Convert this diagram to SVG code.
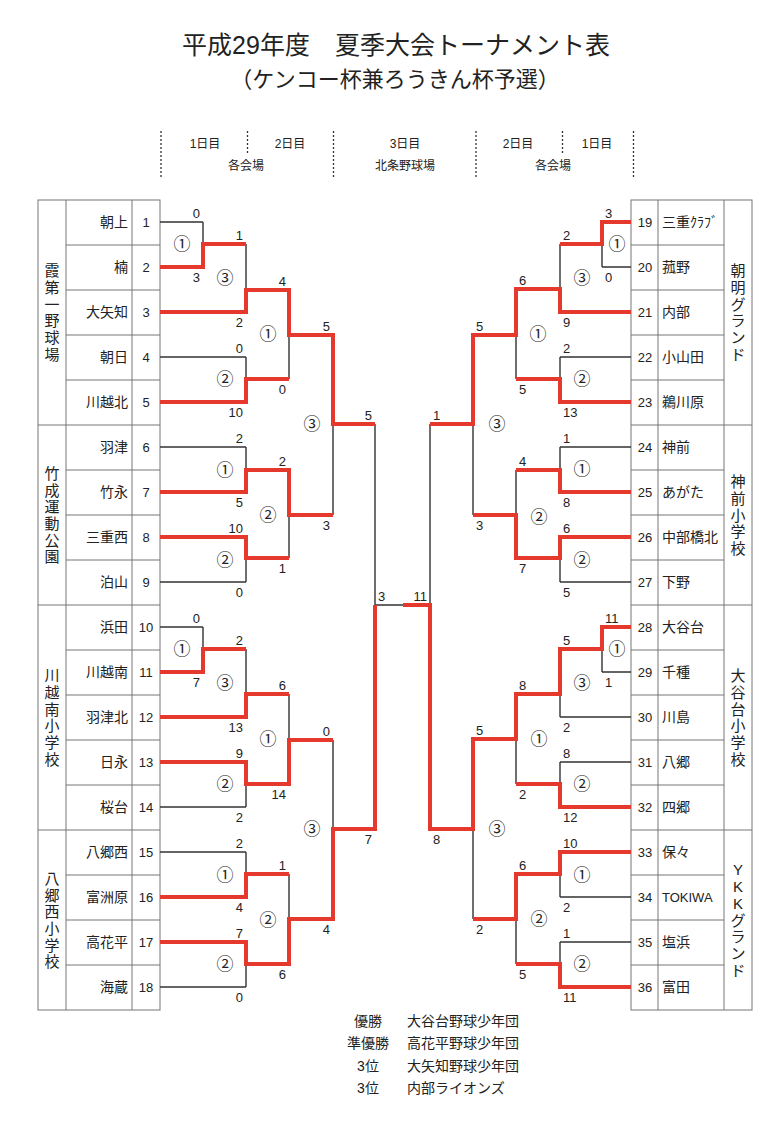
<svg xmlns="http://www.w3.org/2000/svg" width="781" height="1138" viewBox="0 0 781 1138">
<style>
text{font-family:"Liberation Sans","Noto Sans CJK JP",sans-serif;fill:#222}
.ttl{font-size:25px;text-anchor:middle}
.sub{font-size:22px;text-anchor:middle}
.hd{font-size:12px;text-anchor:middle}
.nmL{font-size:14px;text-anchor:end}
.nmR{font-size:14px;text-anchor:start}
.num{font-size:13px;text-anchor:middle}
.ven{font-size:15px;text-anchor:middle}
.sL{font-size:13px;text-anchor:end}
.sR{font-size:13px;text-anchor:start}
.ci{font-family:"Noto Sans CJK JP",sans-serif;font-size:17px;text-anchor:middle;fill:#222}
.ft{font-size:14px}
.ftc{font-size:14px;text-anchor:middle}
.grid{stroke:#777;stroke-width:1;fill:none}
.dot{stroke:#333;stroke-width:1.3;stroke-dasharray:2 2;fill:none}
.blk{stroke:#333;stroke-width:1.4;fill:none}
.red{stroke:#e5392d;stroke-width:4;fill:none;stroke-linejoin:miter}
</style>
<rect width="781" height="1138" fill="#fff"/>
<g id="title">
<text class="ttl" x="396" y="54">平成29年度　夏季大会トーナメント表</text>
<text class="sub" x="395" y="87">（ケンコー杯兼ろうきん杯予選）</text>
</g>
<g id="header">
<path class="dot" d="M161 131V177M333.5 131V177M476 131V177M633.5 131V177M247.5 131V155M562.5 131V155"/>
<text class="hd" x="205" y="148">1日目</text>
<text class="hd" x="290" y="148">2日目</text>
<text class="hd" x="405" y="148">3日目</text>
<text class="hd" x="518" y="148">2日目</text>
<text class="hd" x="597" y="148">1日目</text>
<text class="hd" x="246" y="170">各会場</text>
<text class="hd" x="405" y="170">北条野球場</text>
<text class="hd" x="553" y="170">各会場</text>
</g>
<g id="table-left">
<rect class="grid" x="38" y="200" width="122" height="810"/>
<path class="grid" d="M66 200V1010M132 200V1010M66 245H160M66 290H160M66 335H160M66 380H160M38 425H160M66 470H160M66 515H160M66 560H160M38 605H160M66 650H160M66 695H160M66 740H160M66 785H160M38 830H160M66 875H160M66 920H160M66 965H160"/>
</g>
<g id="table-right">
<rect class="grid" x="631" y="200" width="121" height="810"/>
<path class="grid" d="M658 200V1010M724 200V1010M631 245H724M631 290H724M631 335H724M631 380H724M631 425H752M631 470H724M631 515H724M631 560H724M631 605H752M631 650H724M631 695H724M631 740H724M631 785H724M631 830H752M631 875H724M631 920H724M631 965H724"/>
</g>
<g id="venue-kasumi"><text class="ven" y="276.3"><tspan x="52">霞</tspan><tspan x="52" dy="16.7">第</tspan><tspan x="52" dy="16.7">一</tspan><tspan x="52" dy="16.7">野</tspan><tspan x="52" dy="16.7">球</tspan><tspan x="52" dy="16.7">場</tspan></text></g>
<g id="venue-takenari"><text class="ven" y="478.8"><tspan x="52">竹</tspan><tspan x="52" dy="16.7">成</tspan><tspan x="52" dy="16.7">運</tspan><tspan x="52" dy="16.7">動</tspan><tspan x="52" dy="16.7">公</tspan><tspan x="52" dy="16.7">園</tspan></text></g>
<g id="venue-kawagoeminami"><text class="ven" y="681.3"><tspan x="52">川</tspan><tspan x="52" dy="16.7">越</tspan><tspan x="52" dy="16.7">南</tspan><tspan x="52" dy="16.7">小</tspan><tspan x="52" dy="16.7">学</tspan><tspan x="52" dy="16.7">校</tspan></text></g>
<g id="venue-yagonishi"><text class="ven" y="883.8"><tspan x="52">八</tspan><tspan x="52" dy="16.7">郷</tspan><tspan x="52" dy="16.7">西</tspan><tspan x="52" dy="16.7">小</tspan><tspan x="52" dy="16.7">学</tspan><tspan x="52" dy="16.7">校</tspan></text></g>
<g id="venue-asake"><text class="ven" y="276.3"><tspan x="738">朝</tspan><tspan x="738" dy="16.7">明</tspan><tspan x="738" dy="16.7">グ</tspan><tspan x="738" dy="16.7">ラ</tspan><tspan x="738" dy="16.7">ン</tspan><tspan x="738" dy="16.7">ド</tspan></text></g>
<g id="venue-kanzaki"><text class="ven" y="487.1"><tspan x="738">神</tspan><tspan x="738" dy="16.7">前</tspan><tspan x="738" dy="16.7">小</tspan><tspan x="738" dy="16.7">学</tspan><tspan x="738" dy="16.7">校</tspan></text></g>
<g id="venue-ootanidai"><text class="ven" y="681.3"><tspan x="738">大</tspan><tspan x="738" dy="16.7">谷</tspan><tspan x="738" dy="16.7">台</tspan><tspan x="738" dy="16.7">小</tspan><tspan x="738" dy="16.7">学</tspan><tspan x="738" dy="16.7">校</tspan></text></g>
<g id="venue-ykk"><text class="ven" y="875.4"><tspan x="738">Y</tspan><tspan x="738" dy="16.7">K</tspan><tspan x="738" dy="16.7">K</tspan><tspan x="738" dy="16.7">グ</tspan><tspan x="738" dy="16.7">ラ</tspan><tspan x="738" dy="16.7">ン</tspan><tspan x="738" dy="16.7">ド</tspan></text></g>
<g id="team-1"><text class="nmL" x="128" y="227">朝上</text><text class="num" x="146" y="227">1</text></g>
<g id="team-2"><text class="nmL" x="128" y="272">楠</text><text class="num" x="146" y="272">2</text></g>
<g id="team-3"><text class="nmL" x="128" y="317">大矢知</text><text class="num" x="146" y="317">3</text></g>
<g id="team-4"><text class="nmL" x="128" y="362">朝日</text><text class="num" x="146" y="362">4</text></g>
<g id="team-5"><text class="nmL" x="128" y="407">川越北</text><text class="num" x="146" y="407">5</text></g>
<g id="team-6"><text class="nmL" x="128" y="452">羽津</text><text class="num" x="146" y="452">6</text></g>
<g id="team-7"><text class="nmL" x="128" y="497">竹永</text><text class="num" x="146" y="497">7</text></g>
<g id="team-8"><text class="nmL" x="128" y="542">三重西</text><text class="num" x="146" y="542">8</text></g>
<g id="team-9"><text class="nmL" x="128" y="587">泊山</text><text class="num" x="146" y="587">9</text></g>
<g id="team-10"><text class="nmL" x="128" y="632">浜田</text><text class="num" x="146" y="632">10</text></g>
<g id="team-11"><text class="nmL" x="128" y="677">川越南</text><text class="num" x="146" y="677">11</text></g>
<g id="team-12"><text class="nmL" x="128" y="722">羽津北</text><text class="num" x="146" y="722">12</text></g>
<g id="team-13"><text class="nmL" x="128" y="767">日永</text><text class="num" x="146" y="767">13</text></g>
<g id="team-14"><text class="nmL" x="128" y="812">桜台</text><text class="num" x="146" y="812">14</text></g>
<g id="team-15"><text class="nmL" x="128" y="857">八郷西</text><text class="num" x="146" y="857">15</text></g>
<g id="team-16"><text class="nmL" x="128" y="902">富洲原</text><text class="num" x="146" y="902">16</text></g>
<g id="team-17"><text class="nmL" x="128" y="947">高花平</text><text class="num" x="146" y="947">17</text></g>
<g id="team-18"><text class="nmL" x="128" y="992">海蔵</text><text class="num" x="146" y="992">18</text></g>
<g id="team-19"><text class="num" x="645" y="227">19</text><text class="nmR" x="662" y="227">三重ｸﾗﾌﾞ</text></g>
<g id="team-20"><text class="num" x="645" y="272">20</text><text class="nmR" x="662" y="272">菰野</text></g>
<g id="team-21"><text class="num" x="645" y="317">21</text><text class="nmR" x="662" y="317">内部</text></g>
<g id="team-22"><text class="num" x="645" y="362">22</text><text class="nmR" x="662" y="362">小山田</text></g>
<g id="team-23"><text class="num" x="645" y="407">23</text><text class="nmR" x="662" y="407">鵜川原</text></g>
<g id="team-24"><text class="num" x="645" y="452">24</text><text class="nmR" x="662" y="452">神前</text></g>
<g id="team-25"><text class="num" x="645" y="497">25</text><text class="nmR" x="662" y="497">あがた</text></g>
<g id="team-26"><text class="num" x="645" y="542">26</text><text class="nmR" x="662" y="542">中部橋北</text></g>
<g id="team-27"><text class="num" x="645" y="587">27</text><text class="nmR" x="662" y="587">下野</text></g>
<g id="team-28"><text class="num" x="645" y="632">28</text><text class="nmR" x="662" y="632">大谷台</text></g>
<g id="team-29"><text class="num" x="645" y="677">29</text><text class="nmR" x="662" y="677">千種</text></g>
<g id="team-30"><text class="num" x="645" y="722">30</text><text class="nmR" x="662" y="722">川島</text></g>
<g id="team-31"><text class="num" x="645" y="767">31</text><text class="nmR" x="662" y="767">八郷</text></g>
<g id="team-32"><text class="num" x="645" y="812">32</text><text class="nmR" x="662" y="812">四郷</text></g>
<g id="team-33"><text class="num" x="645" y="857">33</text><text class="nmR" x="662" y="857">保々</text></g>
<g id="team-34"><text class="num" x="645" y="902">34</text><text class="nmR" x="662" y="902" style="font-size:13px">TOKIWA</text></g>
<g id="team-35"><text class="num" x="645" y="947">35</text><text class="nmR" x="662" y="947">塩浜</text></g>
<g id="team-36"><text class="num" x="645" y="992">36</text><text class="nmR" x="662" y="992">富田</text></g>
<g id="connectors">
<path class="blk" d="M160 222H203M160 267H203M160 312H246M160 357H246M160 402H246M160 447H246M160 492H246M160 537H246M160 582H246M160 627H203M160 672H203M160 717H246M160 762H246M160 807H246M160 852H246M160 897H246M160 942H246M160 987H246M203 222V267M203 627V672M246 244V312M246 357V402M246 447V492M246 537V582M246 649V717M246 762V807M246 852V897M246 942V987M289 290V379M289 470V558M289 694V784M289 874V964M333 335V515M333 740V919M375 424V829M203 244H246M203 649H246M246 290H289M246 379H289M246 470H289M246 558H289M246 694H289M246 784H289M246 874H289M246 964H289M289 335H333M289 515H333M289 740H333M289 919H333M333 424H375M333 829H375M375 605H430"/>
<path class="blk" d="M631 222H602M631 267H602M631 312H560M631 357H560M631 402H560M631 447H560M631 492H560M631 537H560M631 582H560M631 627H602M631 672H602M631 717H560M631 762H560M631 807H560M631 852H560M631 897H560M631 942H560M631 987H560M602 222V267M602 627V672M560 244V312M560 357V402M560 447V492M560 537V582M560 649V717M560 762V807M560 852V897M560 942V987M516 289V379M516 470V558M516 694V784M516 874V964M473 335V515M473 739V919M430 424V829M602 244H560M602 649H560M560 289H516M560 379H516M560 470H516M560 558H516M560 694H516M560 784H516M560 874H516M560 964H516M516 335H473M516 515H473M516 739H473M516 919H473M473 424H430M473 829H430"/>
<path class="red" d="M160 267H203V244H246"/>
<path class="red" d="M160 312H246V290H289V335H333V424H375"/>
<path class="red" d="M160 402H246V379H289"/>
<path class="red" d="M160 492H246V470H289V515H333"/>
<path class="red" d="M160 537H246V558H289"/>
<path class="red" d="M160 672H203V649H246"/>
<path class="red" d="M160 717H246V694H289"/>
<path class="red" d="M160 762H246V784H289V740H333"/>
<path class="red" d="M160 897H246V874H289"/>
<path class="red" d="M160 942H246V964H289V919H333V829H375V605"/>
<path class="red" d="M631 222H602V244H560"/>
<path class="red" d="M631 312H560V289H516V335H473V424H430"/>
<path class="red" d="M631 402H560V379H516"/>
<path class="red" d="M631 492H560V470H516"/>
<path class="red" d="M631 537H560V558H516V515H473"/>
<path class="red" d="M631 627H602V649H560V694H516V739H473V829H430V605H403"/>
<path class="red" d="M631 807H560V784H516"/>
<path class="red" d="M631 852H560V874H516V919H473"/>
<path class="red" d="M631 987H560V964H516"/>
</g>
<g id="scores-left">
<text class="sL" x="200" y="218">0</text><text class="sL" x="200" y="282">3</text>
<text class="sL" x="243" y="240">1</text><text class="sL" x="243" y="327">2</text>
<text class="sL" x="243" y="353">0</text><text class="sL" x="243" y="417">10</text>
<text class="sL" x="286" y="286">4</text><text class="sL" x="286" y="394">0</text>
<text class="sL" x="243" y="443">2</text><text class="sL" x="243" y="507">5</text>
<text class="sL" x="243" y="533">10</text><text class="sL" x="243" y="597">0</text>
<text class="sL" x="286" y="466">2</text><text class="sL" x="286" y="573">1</text>
<text class="sL" x="330" y="331">5</text><text class="sL" x="330" y="530">3</text>
<text class="sL" x="200" y="623">0</text><text class="sL" x="200" y="687">7</text>
<text class="sL" x="243" y="645">2</text><text class="sL" x="243" y="732">13</text>
<text class="sL" x="243" y="758">9</text><text class="sL" x="243" y="822">2</text>
<text class="sL" x="286" y="690">6</text><text class="sL" x="286" y="799">14</text>
<text class="sL" x="243" y="848">2</text><text class="sL" x="243" y="912">4</text>
<text class="sL" x="243" y="938">7</text><text class="sL" x="243" y="1002">0</text>
<text class="sL" x="286" y="870">1</text><text class="sL" x="286" y="979">6</text>
<text class="sL" x="330" y="736">0</text><text class="sL" x="330" y="934">4</text>
<text class="sL" x="372" y="420">5</text><text class="sL" x="372" y="844">7</text>
</g>
<g id="scores-final">
<text class="sR" x="378" y="601">3</text><text class="sL" x="427" y="601">11</text>
</g>
<g id="scores-right">
<text class="sR" x="605" y="218">3</text><text class="sR" x="605" y="282">0</text>
<text class="sR" x="563" y="240">2</text><text class="sR" x="563" y="327">9</text>
<text class="sR" x="563" y="353">2</text><text class="sR" x="563" y="417">13</text>
<text class="sR" x="519" y="285">6</text><text class="sR" x="519" y="394">5</text>
<text class="sR" x="563" y="443">1</text><text class="sR" x="563" y="507">8</text>
<text class="sR" x="563" y="533">6</text><text class="sR" x="563" y="597">5</text>
<text class="sR" x="519" y="466">4</text><text class="sR" x="519" y="573">7</text>
<text class="sR" x="476" y="331">5</text><text class="sR" x="476" y="530">3</text>
<text class="sR" x="605" y="623">11</text><text class="sR" x="605" y="687">1</text>
<text class="sR" x="563" y="645">5</text><text class="sR" x="563" y="732">2</text>
<text class="sR" x="563" y="758">8</text><text class="sR" x="563" y="822">12</text>
<text class="sR" x="519" y="690">8</text><text class="sR" x="519" y="799">2</text>
<text class="sR" x="563" y="848">10</text><text class="sR" x="563" y="912">2</text>
<text class="sR" x="563" y="938">1</text><text class="sR" x="563" y="1002">11</text>
<text class="sR" x="519" y="870">6</text><text class="sR" x="519" y="979">5</text>
<text class="sR" x="476" y="735">5</text><text class="sR" x="476" y="934">2</text>
<text class="sR" x="433" y="420">1</text><text class="sR" x="433" y="844">8</text>
</g>
<g id="rounds-left">
<text class="ci" x="182" y="250">①</text><text class="ci" x="225" y="284">③</text><text class="ci" x="225" y="385">②</text><text class="ci" x="268" y="340">①</text>
<text class="ci" x="225" y="476">①</text><text class="ci" x="225" y="566">②</text><text class="ci" x="268" y="521">②</text><text class="ci" x="312" y="430">③</text>
<text class="ci" x="182" y="655">①</text><text class="ci" x="225" y="689">③</text><text class="ci" x="225" y="790">②</text><text class="ci" x="268" y="745">①</text>
<text class="ci" x="225" y="881">①</text><text class="ci" x="225" y="970">②</text><text class="ci" x="268" y="926">②</text><text class="ci" x="312" y="835">③</text>
</g>
<g id="rounds-right">
<text class="ci" x="617" y="250">①</text><text class="ci" x="582" y="284">③</text><text class="ci" x="582" y="385">②</text><text class="ci" x="538" y="340">①</text>
<text class="ci" x="582" y="475">①</text><text class="ci" x="582" y="566">②</text><text class="ci" x="539" y="523">②</text><text class="ci" x="497" y="430">③</text>
<text class="ci" x="617" y="655">①</text><text class="ci" x="582" y="689">③</text><text class="ci" x="582" y="790">②</text><text class="ci" x="539" y="745">①</text>
<text class="ci" x="582" y="881">①</text><text class="ci" x="582" y="970">②</text><text class="ci" x="539" y="925">②</text><text class="ci" x="497" y="835">③</text>
</g>
<g id="results">
<text class="ftc" x="368" y="1026">優勝</text><text class="ft" x="407" y="1026">大谷台野球少年団</text>
<text class="ftc" x="368" y="1048">準優勝</text><text class="ft" x="407" y="1048">高花平野球少年団</text>
<text class="ftc" x="368" y="1071">3位</text><text class="ft" x="407" y="1071">大矢知野球少年団</text>
<text class="ftc" x="368" y="1093">3位</text><text class="ft" x="407" y="1093">内部ライオンズ</text>
</g>
</svg>
